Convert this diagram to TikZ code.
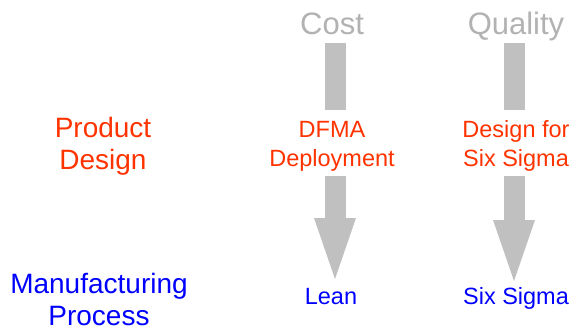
\documentclass[tikz,border=0pt]{standalone}
\usepackage{fontspec}
\setmainfont{Liberation Sans}
\usetikzlibrary{
  arrows.meta,
  calc
}
\definecolor{headcolor}{RGB}{178, 178, 178}
\definecolor{barcolor}{RGB}{192, 192, 192}
\definecolor{designcolor}{RGB}{255, 51, 0}
\definecolor{processcolor}{RGB}{0, 0, 255}
\tikzset{
headlabel/.style={
  font=\fontsize{31}{36}\selectfont,
  text=headcolor,
  anchor=base,
  inner sep=0pt
},
rowlabel/.style={
  align=center,
  font=\fontsize{28}{32}\selectfont,
  anchor=base,
  inner sep=0pt
},
celllabel/.style={
  align=center,
  font=\fontsize{23.5}{29}\selectfont,
  anchor=base,
  inner sep=0pt
},
designtext/.style={
  text=designcolor
},
processtext/.style={
  text=processcolor
},
bar/.style={
  draw=barcolor,
  line width=21pt
},
bigarrow/.style={
  bar,
  -{Triangle[length=61pt,width=42pt,line width=0pt]}
}
}

\begin{document}
\begin{tikzpicture}[x=1pt,y=-1pt]
  \useasboundingbox (0,0) rectangle (572,329);

  % column heads
  \node[headlabel] (cost) at (332,35) {Cost};
  \node[headlabel] (quality) at (516,35) {Quality};

  % row labels (base = last line)
  \node[rowlabel, designtext] (product) at (103,169) {Product\\Design};
  \node[rowlabel, processtext] (manufacturing) at (99,325) {Manufacturing\\Process};

  % cells
  \node[celllabel, designtext] (dfma) at (332,166) {DFMA\\Deployment};
  \node[celllabel, designtext] (dfss) at (516,166) {Design for\\Six Sigma};
  \node[celllabel, processtext] (lean) at (331,304) {Lean};
  \node[celllabel, processtext] (sixsigma) at (516,304) {Six Sigma};

  % bars and arrows
  \draw[bar] ($(cost.base)+(3,8)$) -- ($(dfma.base)+(3,-56)$);
  \draw[bar] ($(quality.base)+(-2,8)$) -- ($(dfss.base)+(-2,-56)$);
  \draw[bigarrow] ($(dfma.base)+(3,10)$) -- ($(lean.base)+(4,-25)$);
  \draw[bigarrow] ($(dfss.base)+(-2,10)$) -- ($(sixsigma.base)+(-2,-23)$);
\end{tikzpicture}
\end{document}
